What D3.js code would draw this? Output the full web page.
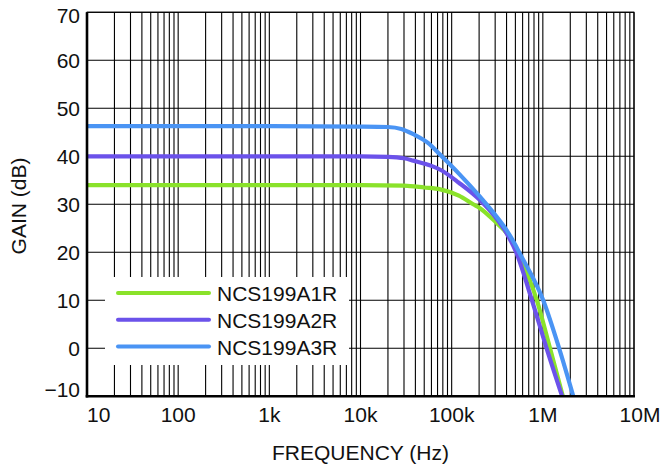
<!DOCTYPE html>
<html>
<head>
<meta charset="utf-8">
<script src="https://cdn.jsdelivr.net/npm/d3@7"></script>
<style>
body { margin: 0; background: #fff; }
text { font-family: "Liberation Sans", Arial, Helvetica, sans-serif; fill: #111; }
</style>
</head>
<body>
<div id="chartArea"></div>
<script>
// series values (Hz, dB)
const seriesNames = ["NCS199A1R", "NCS199A2R", "NCS199A3R"];
const seriesColors = ["#8ae22a", "#6b52ea", "#4a94f4"];

const a1Freq = [10, 1e3, 1e4, 3e4, 5e4, 7.5e4, 1.2e5, 1.72e5, 2.04e5, 3e5, 4e5, 5e5, 5.3e5, 8.6e5, 1.2e6, 1.66e6];
const a1Gain = [34.0, 34.0, 34.0, 33.9, 33.5, 33.1, 31.8, 30.0, 29.2, 26.4, 24.0, 21.0, 20.0, 10.0, 0.0, -10.0];

const a2Freq = [10, 1e3, 1e4, 2e4, 3e4, 3.8e4, 6e4, 7.5e4, 1.2e5, 2.04e5, 3e5, 4e5, 5.1e5, 7.6e5, 1.1e6, 1.63e6];
const a2Gain = [40.0, 40.0, 40.0, 39.9, 39.6, 39.1, 38.0, 37.2, 34.5, 30.9, 27.4, 24.0, 20.0, 10.0, 0.0, -10.0];

const a3Freq = [10, 1e3, 1e4, 2e4, 2.8e4, 3.8e4, 5.5e4, 7.5e4, 1.2e5, 2.04e5, 3e5, 4e5, 5e5, 5.5e5, 1.01e6, 1.51e6, 2.16e6];
const a3Gain = [46.3, 46.3, 46.2, 46.1, 45.7, 44.6, 42.8, 40.3, 36.4, 31.6, 27.8, 24.6, 21.5, 20.0, 10.0, 0.0, -10.0];

const xTickVals = [10, 100, 1e3, 1e4, 1e5, 1e6, 1e7];
const xTickLabels = ["10", "100", "1k", "10k", "100k", "1M", "10M"];
const yTickVals = [-10, 0, 10, 20, 30, 40, 50, 60, 70];
const yTickLabels = ["\u221210", "0", "10", "20", "30", "40", "50", "60", "70"];

function renderGainChart() {
  const W = 660, H = 468;
  const margin = { top: 12.3, right: 26, bottom: 71.7, left: 87 },
    width = W - margin.left - margin.right,
    height = H - margin.top - margin.bottom;

  const root = d3.select("#chartArea")
    .append("svg")
    .attr("width", W)
    .attr("height", H);

  const svg = root.append("g")
    .attr("transform", `translate(${margin.left},${margin.top})`);

  const x = d3.scaleLog().domain([10, 1e7]).range([0, width]);
  const y = d3.scaleLinear().domain([-10, 70]).range([height, 0]);

  // grid: 1..9 per decade
  const minor = [];
  for (let d = 10; d < 1e7; d *= 10) {
    for (let k = 1; k <= 9; k++) minor.push(d * k);
  }
  minor.push(1e7);

  svg.append("g")
    .selectAll("line")
    .data(minor)
    .enter()
    .append("line")
    .attr("x1", d => x(d)).attr("x2", d => x(d))
    .attr("y1", 0).attr("y2", height)
    .attr("stroke", "#000")
    .attr("stroke-width", 1.1);

  svg.append("g")
    .selectAll("line")
    .data(yTickVals)
    .enter()
    .append("line")
    .attr("x1", 0).attr("x2", width)
    .attr("y1", d => y(d)).attr("y2", d => y(d))
    .attr("stroke", "#000")
    .attr("stroke-width", 1.1);

  // legend background covers the grid
  const legend = svg.append("g");
  legend.append("rect")
    .attr("x", 105 - margin.left)
    .attr("y", 277 - margin.top)
    .attr("width", 244)
    .attr("height", 88)
    .attr("fill", "#fff");

  // curves
  svg.append("clipPath").attr("id", "plotClip")
    .append("rect").attr("width", width).attr("height", height);

  const line = d3.line()
    .x(d => x(d[0]))
    .y(d => y(d[1]))
    .curve(d3.curveMonotoneX);

  const series = [
    d3.zip(a1Freq, a1Gain),
    d3.zip(a2Freq, a2Gain),
    d3.zip(a3Freq, a3Gain)
  ];

  svg.append("g")
    .attr("clip-path", "url(#plotClip)")
    .selectAll("path")
    .data(series)
    .enter()
    .append("path")
    .attr("d", line)
    .attr("fill", "none")
    .attr("stroke", (d, i) => seriesColors[i])
    .attr("stroke-width", 4.2)
    .attr("stroke-linejoin", "round");

  // legend entries
  const items = legend.selectAll(".item")
    .data(seriesNames)
    .enter()
    .append("g")
    .attr("transform", (d, i) => `translate(${118 - margin.left},${293 - margin.top + i * 26.8})`);

  items.append("line")
    .attr("x1", 0).attr("x2", 91)
    .attr("stroke", (d, i) => seriesColors[i])
    .attr("stroke-width", 4)
    .attr("stroke-linecap", "round");

  items.append("text")
    .attr("x", 99)
    .attr("y", 8.2)
    .style("font-size", "21px")
    .text(d => d);

  // frame: thin top/right, heavy left/bottom
  svg.append("rect")
    .attr("width", width).attr("height", height)
    .attr("fill", "none")
    .attr("stroke", "#000")
    .attr("stroke-width", 1.1);

  svg.append("line")
    .attr("x1", 0).attr("x2", 0).attr("y1", 0).attr("y2", height + 1.2)
    .attr("stroke", "#000").attr("stroke-width", 2.6);
  svg.append("line")
    .attr("x1", -1.3).attr("x2", width + 1).attr("y1", height).attr("y2", height)
    .attr("stroke", "#000").attr("stroke-width", 2.6);

  // tick labels
  svg.append("g")
    .selectAll("text")
    .data(xTickVals)
    .enter()
    .append("text")
    .attr("x", (d, i) => x(d) + (i === xTickVals.length - 1 ? 6 : 0))
    .attr("y", height + 25.5)
    .attr("text-anchor", (d, i) => i === 0 ? "start" : "middle")
    .style("font-size", "21px")
    .text((d, i) => xTickLabels[i]);

  svg.append("g")
    .selectAll("text")
    .data(yTickVals)
    .enter()
    .append("text")
    .attr("x", -7)
    .attr("y", (d, i) => y(d) + (d === 70 ? 10.5 : d === -10 ? 0.5 : 8.2))
    .attr("text-anchor", "end")
    .style("font-size", "21px")
    .text((d, i) => yTickLabels[i]);

  // axis titles
  svg.append("text")
    .attr("x", width / 2)
    .attr("y", height + 64)
    .attr("text-anchor", "middle")
    .style("font-size", "21px")
    .text("FREQUENCY (Hz)");

  svg.append("text")
    .attr("text-anchor", "middle")
    .attr("transform", `translate(${25.5 - margin.left},${206 - margin.top}) rotate(-90)`)
    .style("font-size", "21px")
    .text("GAIN (dB)");
}

renderGainChart();
</script>
</body>
</html>
